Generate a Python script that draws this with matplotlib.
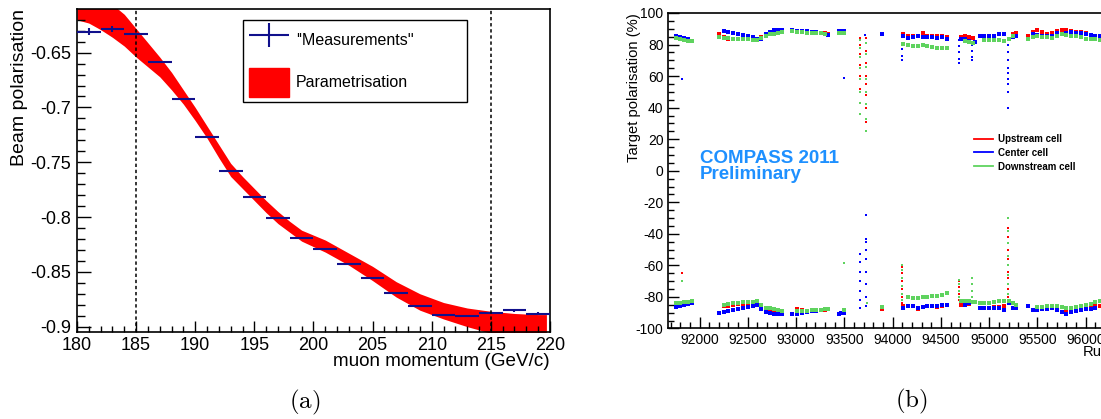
import numpy as np
import matplotlib
matplotlib.use('Agg')
import matplotlib.pyplot as plt
from matplotlib.legend_handler import HandlerErrorbar
from matplotlib.patches import Patch
from matplotlib.lines import Line2D
from matplotlib.ticker import MultipleLocator, FuncFormatter

plt.rcParams['font.family'] = ['Liberation Sans', 'DejaVu Sans']
plt.rcParams['axes.unicode_minus'] = False
plt.rcParams['mathtext.fontset'] = 'cm'

# ---------------- (a) beam polarisation ----------------
momentum = [181, 183, 185, 187, 189, 191, 193, 195, 197, 199,
            201, 203, 205, 207, 209, 211, 213, 215, 217, 219]
beam_pol = [-0.6308, -0.6281, -0.6329, -0.6588, -0.6922, -0.7269, -0.7577, -0.7814, -0.8008, -0.8188,
            -0.8291, -0.8425, -0.8553, -0.8690, -0.8811, -0.8891, -0.8902, -0.8875, -0.8851, -0.8882]
beam_err = [0.0032, 0.0027, 0.0012, 0.0010, 0.0010, 0.0010, 0.0010, 0.0010, 0.0010, 0.0010,
            0.0010, 0.0010, 0.0010, 0.0010, 0.0010, 0.0010, 0.0010, 0.0010, 0.0012, 0.0012]
momentum_bin = 1.0

# parametrisation band (upper / lower edge)
band_p = [180, 181, 182, 183, 184, 185, 186, 187, 188, 189, 190, 191, 192, 193, 194, 195,
          196, 197, 198, 199, 200, 201, 203, 205, 207, 209, 211, 213, 215, 217, 219, 219.7]
band_hi = [-0.580, -0.588, -0.597, -0.606, -0.615, -0.628, -0.641, -0.654, -0.668, -0.684,
           -0.700, -0.717, -0.734, -0.751, -0.763, -0.774, -0.785, -0.795, -0.804, -0.812,
           -0.8165, -0.821, -0.833, -0.845, -0.859, -0.870, -0.878, -0.883, -0.886, -0.888,
           -0.889, -0.889]
band_lo = [-0.620, -0.623, -0.629, -0.636, -0.644, -0.654, -0.663, -0.672, -0.684, -0.697,
           -0.712, -0.728, -0.746, -0.763, -0.774, -0.785, -0.796, -0.806, -0.814, -0.822,
           -0.827, -0.832, -0.844, -0.858, -0.873, -0.885, -0.893, -0.900, -0.906, -0.911,
           -0.915, -0.917]
momentum_cuts = [185, 215]

# ---------------- (b) target polarisation ----------------
runs = [91760, 91800, 91840, 91880, 91920,
        92200, 92250, 92300, 92350, 92400, 92450, 92500, 92550, 92600, 92640,
        92690, 92730, 92770, 92810, 92850,
        92960, 93010, 93060, 93110, 93160, 93210, 93260, 93300, 93330,
        93440, 93470, 93500,
        93890,
        94110, 94160, 94210, 94260, 94310, 94360, 94410, 94460, 94510, 94560,
        94710, 94750, 94790, 94830, 94850,
        94900, 94950, 95000, 95050, 95100, 95150, 95200, 95250, 95280,
        95400, 95450, 95500, 95550, 95600, 95650, 95700, 95750, 95800, 95850,
        95900, 95950, 96000, 96050, 96100, 96150]

up_top = [85.0, 84.0, 83.5, 83.0, 82.5,
          86.4, 84.5, 83.8, 83.6, 83.5, 83.4, 83.2, 82.8, 83.0, 84.7,
          86.2, 86.8, 87.9, 88.5, 88.5,
          88.7, 88.4, 88.2, 87.9, 87.7, 87.4, 87.2, 87.0, 86.8,
          87.9, 88.0, 87.8,
          None,
          86.4, 85.1, 85.1, 85.5, 87.2, 85.7, 85.5, 85.3, 85.3, 84.7,
          84.5, 85.7, 84.7, 84.0, None,
          85.5, 85.5, 85.6, 85.7, 86.4, 86.4, None, 86.4, 87.5,
          85.1, 88.0, 88.9, 88.2, 86.8, 87.5, 88.5, 89.5, 89.0, 88.5,
          88.2, 87.9, 87.0, 86.3, 85.7, 85.5]
ce_top = [85.7, 84.8, 84.0, 83.2, 82.3,
          None, 88.6, 88.0, 87.4, 86.8, 86.0, 85.3, 84.7, 83.8, 83.5,
          86.8, 88.0, 89.3, 89.5, 89.3,
          88.9, 88.7, 88.5, 88.3, 88.1, 87.7, 87.4, 86.8, 86.2,
          88.3, 88.5, 88.3,
          86.8,
          85.7, 84.3, 84.7, 85.1, 84.9, 84.8, 84.7, 84.3, 84.5, 83.6,
          83.6, 83.6, 82.1, 80.9, 81.5,
          85.5, 85.5, 85.5, 85.5, 86.8, 86.4, None, 84.7, 85.1,
          None, 86.4, 86.2, 85.7, 85.4, 85.1, 87.2, 86.8, 87.3, 87.9,
          87.6, 87.3, 86.8, 86.3, 85.7, 85.5]
dn_top = [84.0, 83.5, 83.0, 82.5, 82.0,
          84.7, 84.3, 84.0, 83.8, 83.6, 83.4, 83.2, 82.9, 82.6, 84.3,
          85.7, 86.5, 86.8, 87.6, 87.9,
          88.3, 88.1, 87.9, 87.6, 87.5, 87.2, 87.0, 86.8, None,
          87.6, 87.6, 87.4,
          None,
          80.5, 80.0, 79.0, 79.2, 79.4, 78.8, 78.3, 78.0, 77.8, 77.7,
          None, 82.1, 81.5, 80.9, None,
          None, 82.6, 82.6, 82.6, 82.6, 82.1, 83.6, 85.1, None,
          83.6, 84.7, 85.5, 84.7, 84.5, 84.3, 85.7, 86.4, 86.0, 85.7,
          85.2, 84.7, 83.6, 83.4, 83.2, 83.0]
up_bot = [-85.5, -85.0, -84.3, -83.7, -83.1,
          None, -86.0, -85.6, -85.1, -84.6, -84.2, -83.7, -83.3, -82.7, -85.2,
          -87.5, -87.9, -88.3, -88.8, None,
          None, -87.9, -88.3, -88.8, -88.6, -88.4, -88.2, -88.0, None,
          None, None, -88.0,
          -87.9,
          -86.0, -85.6, -86.0, -87.5, -86.6, -85.8, -86.0, -86.3, -85.5, -84.8,
          -85.2, -84.8, -84.6, -83.1, None,
          -86.7, -86.9, -86.9, -86.3, -86.1, -85.8, None, None, -86.5,
          None, None, None, -87.9, -87.5, -87.3, -88.0, -89.4, -89.2, -89.0,
          -88.5, -87.9, -87.5, -87.0, -85.8, -85.5]
ce_bot = [-86.3, -85.6, -85.0, -84.3, -83.7,
          -90.1, -89.4, -88.8, -88.3, -87.7, -87.2, -86.5, -85.6, -84.8, -87.5,
          -89.8, -90.3, -90.9, -91.0, -91.1,
          -90.9, -90.6, -90.1, -89.6, -89.0, -88.6, -88.2, -87.9, -87.6,
          -90.5, -90.3, -90.1,
          None,
          -86.7, -85.6, -86.0, -86.7, -86.2, -85.8, -85.8, -85.6, -85.2, -85.0,
          None, -84.8, -84.1, -83.5, None,
          -86.7, -86.7, -86.7, -87.0, -87.3, -88.4, -83.7, -87.3, -87.0,
          -85.6, -88.0, -88.4, -87.9, -87.5, -87.3, -88.0, -89.4, -90.5, -89.4,
          -89.0, -88.4, -87.9, -87.5, -86.7, None]
dn_bot = [-84.1, -83.8, -83.4, -83.0, -82.7,
          None, -85.2, -84.6, -84.1, -83.8, -83.5, -83.2, -82.9, -82.7, -85.0,
          -87.0, -87.3, -87.9, -88.4, -88.8,
          None, -88.9, -88.8, -88.6, -88.4, -88.2, -88.0, -87.8, -87.5,
          None, None, -88.4,
          -86.3,
          None, -80.3, -80.4, -80.5, -80.2, -79.9, -79.6, -79.1, -78.5, -77.8,
          -82.7, -82.7, -82.7, -83.0, -83.1,
          -84.1, -84.1, -83.8, -83.1, -82.8, -82.5, -82.3, -84.0, -85.0,
          None, None, -86.5, -86.1, -85.6, -85.7, -85.8, -86.2, -86.7, -86.7,
          -86.3, -85.6, -84.9, -84.6, -83.5, -82.7]

# single runs and polarisation build-up / reversal periods
up_extra_run = [91815,
                93665, 93665, 93665, 93665, 93665, 93665, 93665,
                93720, 93720, 93720, 93720, 93720, 93720, 93720, 93720, 93731,
                94095, 94095, 94095, 94095, 94095, 94095,
                94690, 94690, 94690, 94690, 94820, 94820,
                95195, 95195, 95195, 95195, 95195, 95195, 95195, 95195, 95195, 95195]
up_extra_pol = [-65.1,
                84, 80, 74, 67, 60, 52, 43,
                84, 76, 68, 60, 55, 48, 40, 31, -83.7,
                -61, -65, -70, -75, -80, -84,
                -70, -74, -78, -82, -76, -80,
                -36, -42, -50, -56, -60, -64, -68, -75, -80, -84]
ce_extra_run = [91815, 93500, 93715,
                93665, 93665, 93665, 93665, 93665, 93665, 93665,
                93720, 93720, 93720, 93720, 93720, 93720, 93720, 93720, 93720,
                94095, 94095, 94095, 94095, 94095,
                94690, 94690, 94690, 94690, 94690,
                94822, 94822, 94822, 94822,
                95195, 95195, 95195, 95195, 95195, 95195, 95195, 95195, 95195, 95195]
ce_extra_pol = [58.3, 58.9, 86,
                -87, -82, -76, -70, -64, -58, -53,
                -86, -80, -72, -64, -56, -50, -45, -43, -28,
                85, 81, 77, 73, 70,
                83, 79, 75, 71, 68,
                80, 76, 72, 70,
                84, 80, 75, 70, 65, 62, 58, 55, 50, 40]
dn_extra_run = [91815, 93500,
                93665, 93665, 93665, 93665, 93665, 93665, 93665, 93665,
                93725, 93725, 93725, 93725, 93725, 93725, 93725, 93725, 93731,
                94095, 94095, 94095, 94095, 94095, 94095,
                94690, 94690, 94690, 94690, 94820, 94820, 94820, 94820,
                95195, 95195, 95195, 95195, 95195, 95195, 95195, 95195, 95195]
dn_extra_pol = [-69.8, -58.5,
                83, 78, 72, 65, 58, 50, 43, 36,
                81, 74, 66, 58, 50, 42, 33, 25, -84,
                -60, -63, -68, -73, -78, -82,
                -69, -72, -76, -80, -68, -72, -76, -80,
                -30, -38, -46, -54, -60, -66, -72, -78, -82]

cells = ['Upstream cell', 'Center cell', 'Downstream cell']
cell_colors = ['#ff0000', '#0000ff', '#5fd35f']

fig = plt.figure(figsize=(11.01, 4.19), dpi=100)

# ---- panel (a)
ax1 = fig.add_axes([0.0699, 0.2084, 0.4296, 0.7695])
ax1.fill_between(band_p, band_lo, band_hi, color='#ff0000', lw=0, zorder=1)
eb = ax1.errorbar(momentum, beam_pol, xerr=momentum_bin, yerr=beam_err, fmt='none',
                  ecolor='#10108c', elinewidth=1.5, capsize=0, zorder=3)
for c in momentum_cuts:
    ax1.axvline(c, color='black', lw=1.1, ls=(0, (2.2, 1.8)), zorder=4)
ax1.set_xlim(180, 220)
ax1.set_ylim(-0.9046, -0.6104)
ax1.xaxis.set_major_locator(MultipleLocator(5))
ax1.xaxis.set_minor_locator(MultipleLocator(1))
ax1.yaxis.set_major_locator(MultipleLocator(0.05))
ax1.yaxis.set_minor_locator(MultipleLocator(0.01))
ax1.yaxis.set_major_formatter(FuncFormatter(lambda v, p: '%g' % round(v, 3)))
ax1.tick_params(which='both', direction='in', top=False, right=False, labelsize=13, pad=4)
ax1.tick_params(axis='y', which='major', length=10, width=1)
ax1.tick_params(axis='y', which='minor', length=5.5, width=1)
ax1.tick_params(axis='x', which='major', length=8, width=1)
ax1.tick_params(axis='x', which='minor', length=4.5, width=1)
for s in ax1.spines.values():
    s.set_linewidth(1.2)
ax1.set_ylabel('Beam polarisation', fontsize=14, loc='top')
ax1.yaxis.set_label_coords(-0.104, 1.0)
ax1.set_xlabel('muon momentum (GeV/c)', fontsize=13.6, loc='right')
ax1.xaxis.set_label_coords(1.0, -0.066)

leg1 = ax1.legend([eb, Patch(color='#ff0000')], ["''Measurements''", 'Parametrisation'],
                  handler_map={type(eb): HandlerErrorbar(xerr_size=1.25, yerr_size=0.75)},
                  loc='upper left', bbox_to_anchor=(0.351, 0.7063, 0.4735, 0.2605), mode='expand',
                  fontsize=11.5, handlelength=2.5, handleheight=2.4, labelspacing=0.85,
                  handletextpad=0.45, borderpad=0.35, borderaxespad=0, fancybox=False,
                  framealpha=1, edgecolor='black')
leg1.get_frame().set_linewidth(1.0)

# ---- panel (b)
ax2 = fig.add_axes([0.6064, 0.216, 0.4017, 0.753])
series = [(up_top, up_bot, up_extra_run, up_extra_pol),
          (ce_top, ce_bot, ce_extra_run, ce_extra_pol),
          (dn_top, dn_bot, dn_extra_run, dn_extra_pol)]
for (top, bot, xr, xp), col in zip(series, cell_colors):
    ax2.plot(runs, np.array(top, dtype=float), ls='none', marker='s', ms=2.6, mew=0, color=col)
    ax2.plot(runs, np.array(bot, dtype=float), ls='none', marker='s', ms=2.6, mew=0, color=col)
    ax2.plot(xr, xp, ls='none', marker='s', ms=1.6, mew=0, color=col)
ax2.set_xlim(91670, 96250)
ax2.set_ylim(-100, 100)
ax2.xaxis.set_major_locator(MultipleLocator(500))
ax2.xaxis.set_minor_locator(MultipleLocator(100))
ax2.yaxis.set_major_locator(MultipleLocator(20))
ax2.yaxis.set_minor_locator(MultipleLocator(5))
ax2.tick_params(which='both', direction='in', top=False, right=False, labelsize=10, pad=3)
ax2.tick_params(which='major', length=8, width=1)
ax2.tick_params(which='minor', length=4.5, width=1)
for s in ax2.spines.values():
    s.set_linewidth(1.2)
ax2.set_ylabel('Target polarisation (%)', fontsize=10.6, loc='top')
ax2.yaxis.set_label_coords(-0.060, 1.0)
ax2.set_xlabel('Run', fontsize=10.6, loc='right')
ax2.xaxis.set_label_coords(1.0, -0.052)

ax2.text(0.0725, 0.5233, 'COMPASS 2011', transform=ax2.transAxes, color='#1e90ff',
         fontsize=13.5, fontweight='bold', va='baseline')
ax2.text(0.0725, 0.4754, 'Preliminary', transform=ax2.transAxes, color='#1e90ff',
         fontsize=13.5, fontweight='bold', va='baseline')

handles = [Line2D([], [], color=c, lw=1.3) for c in cell_colors]
ax2.legend(handles, cells, loc='upper left', bbox_to_anchor=(974 / 1101, 1 - 134 / 419),
           bbox_transform=fig.transFigure, frameon=False, borderpad=0, borderaxespad=0,
           handlelength=2.0, handletextpad=0.45, labelspacing=0.4,
           prop={'size': 7.0, 'weight': 'bold'})

fig.text(305 / 1101, 1 - 402 / 419, r'$\mathrm{(a)}$', fontsize=18, ha='center', va='center')
fig.text(911 / 1101, 1 - 401 / 419, r'$\mathrm{(b)}$', fontsize=18, ha='center', va='center')

fig.savefig('out.png', dpi=100)
